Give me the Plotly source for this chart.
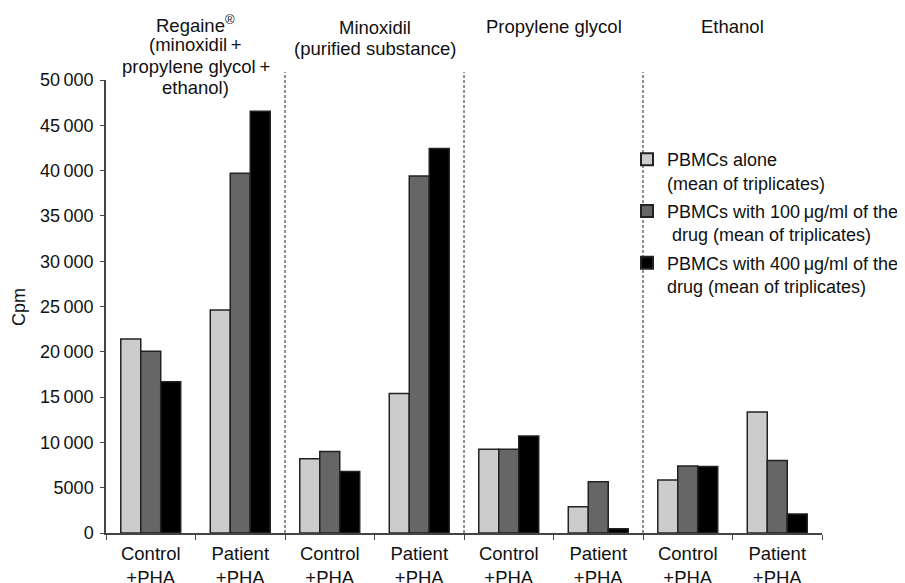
import plotly.graph_objects as go

# ---- data ----
x_positions = [0, 1, 2, 3, 4, 5, 6, 7]
tick_labels = ["Control<br>+PHA", "Patient<br>+PHA"] * 4
alone = [21400, 24600, 8200, 15400, 9250, 2900, 5850, 13350]
dose100 = [20050, 39700, 9000, 39400, 9250, 5650, 7400, 8000]
dose400 = [16700, 46550, 6800, 42450, 10700, 480, 7350, 2100]
series_names = [
    "PBMCs alone<br>(mean of triplicates)",
    "PBMCs with 100\u2009\u03bcg/ml of the<br>\u00a0drug (mean of triplicates)",
    "PBMCs with 400\u2009\u03bcg/ml of the<br>drug (mean of triplicates)",
]
series_colors = ["#cccccc", "#666666", "#000000"]
y_tickvals = [0, 5000, 10000, 15000, 20000, 25000, 30000, 35000, 40000, 45000, 50000]
y_ticktext = ["0", "5000", "10\u2009000", "15\u2009000", "20\u2009000", "25\u2009000",
              "30\u2009000", "35\u2009000", "40\u2009000", "45\u2009000", "50\u2009000"]
separators = [1.5, 3.5, 5.5]
headers = [
    (0.5, ["Regaine<sup>\u00ae</sup>", "(minoxidil\u2009+", "propylene glycol\u2009+", "ethanol)"]),
    (2.5, ["Minoxidil", "(purified substance)"]),
    (4.5, ["Propylene glycol"]),
    (6.5, ["Ethanol"]),
]

FONT = "Liberation Sans, Arial, Helvetica, sans-serif"
# page body has an 8px margin: figure is offset by (8, 8) in the window
OFF = 8
WIN_W, WIN_H = 905, 583
PX_L, PX_R, PX_T, PX_B = 106, 822, 80, 533   # plot area in window pixels
W, H = WIN_W - OFF, WIN_H - OFF
L, T = PX_L - OFF, PX_T - OFF
R, B = WIN_W - PX_R, WIN_H - PX_B
plot_w, plot_h = PX_R - PX_L, PX_B - PX_T

def px_x(px):
    return (px - PX_L) / plot_w

def px_y(py):
    return (PX_B - py) / plot_h

fig = go.Figure()
for i, (vals, name, col) in enumerate(zip([alone, dose100, dose400], series_names, series_colors)):
    fig.add_trace(go.Bar(
        x=x_positions, y=vals, name=name, legendgroup=f"g{i}",
        marker=dict(color=col, line=dict(color="#222222", width=1.5)),
    ))

for s in separators:
    fig.add_shape(type="line", xref="x", yref="paper", x0=s, x1=s,
                  y0=0, y1=px_y(72),
                  line=dict(color="#222222", width=1, dash="3px,2px"))

for xc, lines in headers:
    if len(lines) == 4:
        ys = [24.5, 44.5, 66, 87.5]
    elif len(lines) == 2:
        ys = [27, 48.5]
    else:
        ys = [26]
    for txt, py in zip(lines, ys):
        fig.add_annotation(x=xc, y=px_y(py), xref="x", yref="paper",
                           text=txt, showarrow=False, xanchor="center", yanchor="middle",
                           font=dict(size=18.5, color="#111111", family=FONT))

fig.add_annotation(x=px_x(19), y=px_y(307), xref="paper", yref="paper",
                   text="Cpm", showarrow=False, textangle=-90,
                   xanchor="center", yanchor="middle",
                   font=dict(size=18, color="#111111", family=FONT))

fig.update_layout(
    width=W, height=H,
    margin=dict(l=L, r=R, t=T, b=B, autoexpand=False),
    paper_bgcolor="white", plot_bgcolor="white",
    barmode="group", bargap=0.33, bargroupgap=0,
    font=dict(family=FONT, size=17, color="#111111"),
    showlegend=True,
    legend=dict(x=px_x(627), y=px_y(141), xanchor="left", yanchor="top",
                bgcolor="rgba(0,0,0,0)", font=dict(size=18, family=FONT, color="#111111"),
                itemsizing="constant", tracegroupgap=2, valign="top"),
    xaxis=dict(
        range=[-0.5, 7.5], tickmode="array", tickvals=x_positions, ticktext=tick_labels,
        ticks="", showline=True, linecolor="#444444", linewidth=1.5,
        showgrid=False, zeroline=False, ticklabelstandoff=3,
        tickfont=dict(size=18.5, family=FONT, color="#111111"),
        minor=dict(tickmode="linear", tick0=-0.5, dtick=1, ticks="outside", ticklen=5,
                   tickcolor="#444444", tickwidth=1.2, showgrid=False),
    ),
    yaxis=dict(
        range=[0, 50000], tickmode="array", tickvals=y_tickvals, ticktext=y_ticktext,
        ticks="outside", ticklen=4, tickcolor="#444444", tickwidth=1.2,
        showline=True, linecolor="#444444", linewidth=1.5,
        showgrid=False, zeroline=False, ticklabelstandoff=3,
        tickfont=dict(size=18, family=FONT, color="#111111"),
    ),
)

fig.write_html("out.html")
